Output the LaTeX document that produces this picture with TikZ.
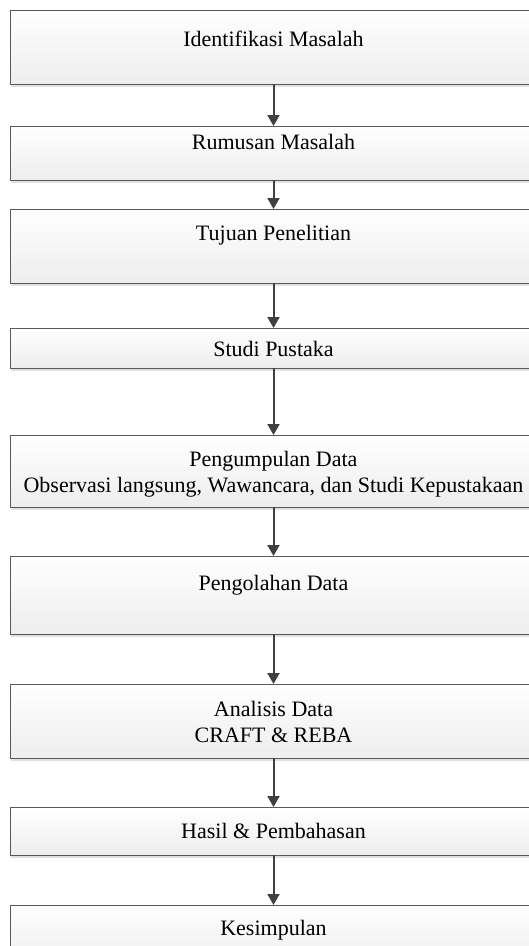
\documentclass[tikz,border=0pt]{standalone}
\usepackage{fontspec}
\setmainfont{Liberation Serif}
\usetikzlibrary{
arrows.meta,
shadows
}

\begin{document}
\begin{tikzpicture}[
    x=1pt,
    y=1pt,
    tahap/.style={
      draw=black!65,
      line width=1pt,
      top color=white,
      bottom color=black!7,
      drop shadow={shadow xshift=1pt, shadow yshift=-2.5pt, fill=black, opacity=0.12},
      minimum width=527pt,
      inner sep=0pt,
      outer sep=0pt,
      anchor=north
    },
    teks/.style={
      anchor=base,
      align=center,
      inner sep=0pt,
      font=\fontsize{22}{25.5}\selectfont
    },
    alur/.style={
      draw=black!75,
      line width=2pt,
      -{Triangle[length=11pt,width=12pt]}
    }
  ]
  \useasboundingbox (0,0) rectangle (529,-946);
  \clip (0,0) rectangle (529,-946);
  \node[tahap,minimum height=74pt] (iden) at(273.5,-10) {};
  \node[tahap,minimum height=54pt,yshift=-42pt] (rumus) at(iden.south) {};
  \node[tahap,minimum height=74pt,yshift=-29pt] (tujuan) at(rumus.south) {};
  \node[tahap,minimum height=40pt,yshift=-45pt] (studi) at(tujuan.south) {};
  \node[tahap,minimum height=72pt,yshift=-67pt] (kumpul) at(studi.south) {};
  \node[tahap,minimum height=78pt,yshift=-49pt] (olah) at(kumpul.south) {};
  \node[tahap,minimum height=74pt,yshift=-50pt] (analisis) at(olah.south) {};
  \node[tahap,minimum height=48pt,yshift=-49pt] (hasil) at(analisis.south) {};
  \node[tahap,minimum height=60pt,yshift=-50pt] (simpul) at(hasil.south) {};
  % texts (base = last line)
  \node[teks] (iden-t) at([yshift=-36pt]iden.north) {Identifikasi Masalah};
  \node[teks] (rumus-t) at([yshift=-23pt]rumus.north) {Rumusan Masalah};
  \node[teks] (tujuan-t) at([yshift=-31pt]tujuan.north) {Tujuan Penelitian};
  \node[teks] (studi-t) at([yshift=-28pt]studi.north) {Studi Pustaka};
  \node[teks] (kumpul-t) at([yshift=-57pt]kumpul.north) {Pengumpulan Data\\Observasi langsung, Wawancara, dan Studi Kepustakaan};
  \node[teks] (olah-t) at([yshift=-34pt]olah.north) {Pengolahan Data};
  \node[teks] (analisis-t) at([yshift=-58pt]analisis.north) {Analisis Data\\CRAFT \& REBA};
  \node[teks] (hasil-t) at([yshift=-31pt]hasil.north) {Hasil \& Pembahasan};
  \node[teks] (simpul-t) at([yshift=-30pt]simpul.north) {Kesimpulan};
  % arrows
  \draw[alur] (iden) -- (rumus);
  \draw[alur] (rumus) -- (tujuan);
  \draw[alur] (tujuan) -- (studi);
  \draw[alur] (studi) -- (kumpul);
  \draw[alur] (kumpul) -- (olah);
  \draw[alur] (olah) -- (analisis);
  \draw[alur] (analisis) -- (hasil);
  \draw[alur] (hasil) -- (simpul);
\end{tikzpicture}
\end{document}
